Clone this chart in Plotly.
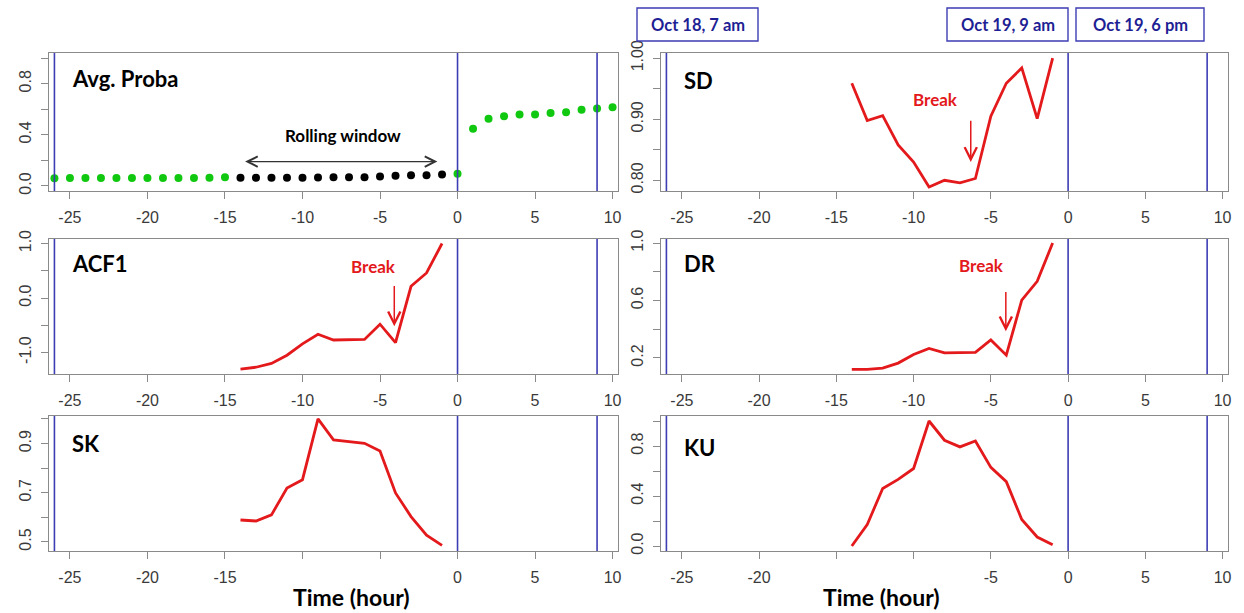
import plotly.graph_objects as go

W, H = 1244, 613

# ---------------- data ----------------
hours_all = list(range(-26, 11))
avg_proba = [0.060, 0.062, 0.062, 0.062, 0.062, 0.062, 0.062, 0.062, 0.062, 0.062, 0.064, 0.068,
             0.063, 0.063, 0.063, 0.063, 0.063, 0.065, 0.068, 0.068, 0.068, 0.074, 0.079, 0.084, 0.084, 0.089,
             0.095, 0.447, 0.526, 0.545, 0.558, 0.558, 0.571, 0.576, 0.595, 0.605, 0.616]
window_start, window_end = -14, -1

hours_ind = list(range(-14, 0))
sd = [0.959, 0.898, 0.906, 0.858, 0.830, 0.789, 0.800, 0.796, 0.803, 0.905, 0.959, 0.984, 0.901, 1.0]
acf1 = [-1.305, -1.27, -1.20, -1.05, -0.84, -0.665, -0.77, -0.77, -0.76, -0.48, -0.82, 0.215, 0.46, 1.0]
dr = [0.12, 0.12, 0.129, 0.164, 0.224, 0.266, 0.235, 0.235, 0.238, 0.325, 0.219, 0.602, 0.733, 1.0]
sk = [0.589, 0.585, 0.610, 0.719, 0.753, 1.0, 0.915, 0.908, 0.901, 0.870, 0.699, 0.603, 0.527, 0.486]
ku = [0.0, 0.172, 0.46, 0.533, 0.62, 1.0, 0.846, 0.793, 0.84, 0.629, 0.515, 0.212, 0.072, 0.01]

event_hours = [-26, 0, 9]
event_labels = ["Oct 18, 7 am", "Oct 19, 9 am", "Oct 19, 6 pm"]

x_tickvals = [-25, -20, -15, -10, -5, 0, 5, 10]
x_ticktext = ["-25", "-20", "-15", "-10", "-5", "0", "5", "10"]

# ---------------- layout geometry (pixels) ----------------
cols = {"L": (49, 618), "R": (661, 1228)}
rows = {1: (53, 191), 2: (239, 374), 3: (416, 551)}

panels = [
    # name, col, row, yrange, ytickvals, yticktext, label offset px
    ("Avg. Proba", "L", 1, [-0.04, 1.04], [0, 0.2, 0.4, 0.6, 0.8, 1.0], ["0.0", "", "0.4", "", "0.8", ""], 25),
    ("SD", "R", 1, [0.7825, 1.0085], [0.80, 0.85, 0.90, 0.95, 1.00], ["0.80", "", "0.90", "", "1.00"], 27),
    ("ACF1", "L", 2, [-1.394, 1.083], [-1.0, -0.5, 0.0, 0.5, 1.0], ["-1.0", "", "0.0", "", "1.0"], 24),
    ("DR", "R", 2, [0.088, 1.028], [0.2, 0.4, 0.6, 0.8, 1.0], ["0.2", "", "0.6", "", "1.0"], 24),
    ("SK", "L", 3, [0.463, 1.012], [0.5, 0.6, 0.7, 0.8, 0.9, 1.0], ["0.5", "", "0.7", "", "0.9", ""], 27),
    ("KU", "R", 3, [-0.04, 1.04], [0, 0.2, 0.4, 0.6, 0.8, 1.0], ["0.0", "", "0.4", "", "0.8", ""], 31),
]
series = {"SD": sd, "ACF1": acf1, "DR": dr, "SK": sk, "KU": ku}
hidden_xlabels = {"SK": ["-10", "-5"], "KU": ["-15", "-10"]}

XRANGE = [-26.35, 10.35]
AXC = "#8a8a8a"
TICKFONT = dict(family="Liberation Sans, Arial, sans-serif", size=16, color="#3a3a3a")
LABFONT = "Lato, 'Open Sans', sans-serif"
RED = "#e3191c"
BLUE = "#3d3db4"

fig = go.Figure()
layout = dict(width=W, height=H, margin=dict(l=0, r=0, t=0, b=0, pad=0), showlegend=False,
              plot_bgcolor="white", paper_bgcolor="white")
annotations = []
shapes = []

for i, (name, col, row, yr, ytv, ytt, loff) in enumerate(panels, start=1):
    sfx = "" if i == 1 else str(i)
    x0, x1 = cols[col]
    y0, y1 = rows[row]
    xd = [x0 / W, x1 / W]
    yd = [1 - y1 / H, 1 - y0 / H]
    xt = [("" if t in hidden_xlabels.get(name, []) else t) for t in x_ticktext]
    layout["xaxis" + sfx] = dict(domain=xd, range=XRANGE, anchor="y" + sfx,
                                 tickvals=x_tickvals, ticktext=xt, ticks="outside", ticklen=7,
                                 tickcolor=AXC, tickwidth=1.2, showline=True, mirror=True,
                                 linecolor=AXC, linewidth=1.3, showgrid=False, zeroline=False,
                                 tickfont=TICKFONT, ticklabelstandoff=5, automargin=False)
    layout["yaxis" + sfx] = dict(domain=yd, range=yr, anchor="x" + sfx,
                                 tickvals=ytv, ticktext=ytt, ticks="outside", ticklen=7,
                                 tickcolor=AXC, tickwidth=1.2, showline=True, mirror=True,
                                 linecolor=AXC, linewidth=1.3, showgrid=False, zeroline=False,
                                 tickfont=TICKFONT, tickangle=-90, ticklabelstandoff=3,
                                 automargin=False)
    # event lines
    for eh in event_hours:
        shapes.append(dict(type="line", xref="x" + sfx, yref="y" + sfx + " domain",
                           x0=eh, x1=eh, y0=0, y1=1, line=dict(color=BLUE, width=1.6)))
    # panel label
    annotations.append(dict(text="<b>%s</b>" % name, xref="x" + sfx, yref="y" + sfx + " domain",
                            x=-25.0, y=1 - loff / (y1 - y0), xanchor="left", yanchor="middle",
                            showarrow=False, font=dict(family=LABFONT, size=22, color="black")))
    # data
    if name == "Avg. Proba":
        colors = ["black" if window_start <= h <= window_end else "#10c810" for h in hours_all]
        fig.add_trace(go.Scatter(x=hours_all, y=avg_proba, mode="markers",
                                 marker=dict(color=colors, size=8, line=dict(width=0)),
                                 xaxis="x" + sfx, yaxis="y" + sfx))
    else:
        fig.add_trace(go.Scatter(x=hours_ind, y=series[name], mode="lines",
                                 line=dict(color=RED, width=2.8),
                                 xaxis="x" + sfx, yaxis="y" + sfx))

# Rolling window arrow + text
annotations.append(dict(x=-1.3, y=0.19, ax=-13.8, ay=0.19, xref="x", yref="y", axref="x", ayref="y",
                        text="", showarrow=True, arrowhead=5, startarrowhead=5, arrowside="end+start",
                        arrowsize=1.7, startarrowsize=1.7, arrowwidth=1.2, arrowcolor="#333333"))
annotations.append(dict(x=-7.4, y=0.395, xref="x", yref="y", text="<b>Rolling window</b>",
                        xanchor="center", yanchor="middle",
                        showarrow=False, font=dict(family=LABFONT, size=17, color="black")))

# Break arrows
breaks = [("2", -6.3, 0.90, 0.83, -8.6, 0.932),
          ("3", -4.08, 0.246, -0.52, -5.4, 0.585),
          ("4", -4.03, 0.669, 0.385, -5.6, 0.846)]
for sfx, bx, ytail, yhead, tx, ty in breaks:
    annotations.append(dict(x=bx, y=yhead, ax=bx, ay=ytail, xref="x" + sfx, yref="y" + sfx,
                            axref="x" + sfx, ayref="y" + sfx, text="", showarrow=True,
                            arrowhead=5, arrowsize=1.6, arrowwidth=1.5, arrowcolor=RED))
    annotations.append(dict(x=tx, y=ty, xref="x" + sfx, yref="y" + sfx, text="<b>Break</b>",
                            xanchor="center", yanchor="middle",
                            showarrow=False, font=dict(family=LABFONT, size=17, color=RED)))

# Time (hour) axis titles
for cx in (351, 881):
    annotations.append(dict(x=cx / W, y=1 - 597 / H, xref="paper", yref="paper",
                            xanchor="center", yanchor="middle",
                            text="<b>Time (hour)</b>", showarrow=False,
                            font=dict(family=LABFONT, size=23, color="black")))

# Event header boxes
boxes = [(637, 758), (947, 1068), (1076, 1204)]
for (bx0, bx1), lab in zip(boxes, event_labels):
    shapes.append(dict(type="rect", xref="paper", yref="paper",
                       x0=bx0 / W, x1=bx1 / W, y0=1 - 41 / H, y1=1 - 8 / H,
                       line=dict(color=BLUE, width=1.4), fillcolor="white"))
    annotations.append(dict(x=(bx0 + bx1) / 2 / W, y=1 - 24.5 / H, xref="paper", yref="paper",
                            xanchor="center", yanchor="middle",
                            text="<b>%s</b>" % lab, showarrow=False,
                            font=dict(family=LABFONT, size=16.5, color="#1f1f95")))

layout["annotations"] = annotations
layout["shapes"] = shapes
fig.update_layout(**layout)

fig.write_html("out.html", config={"displayModeBar": False},
               post_script="document.body.style.margin='0';document.body.style.overflow='hidden';")
